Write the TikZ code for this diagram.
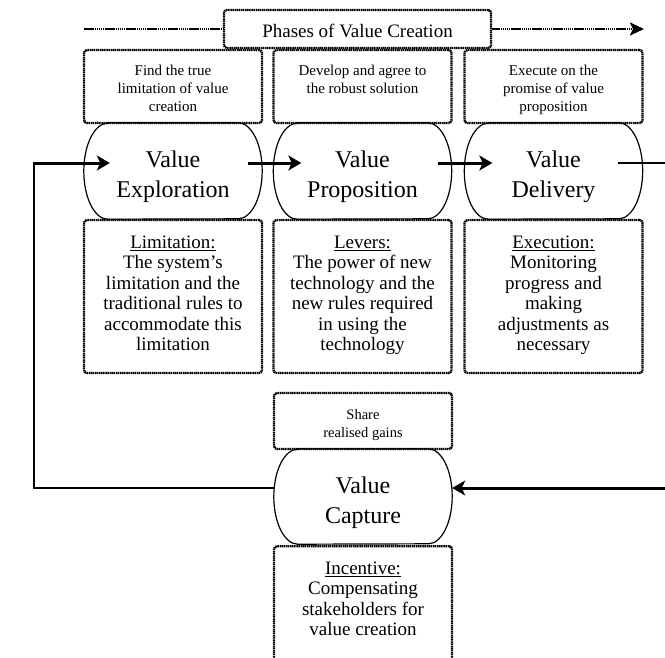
\documentclass[tikz,border=0pt]{standalone}
\usepackage{fontspec}
\setmainfont{Liberation Serif}
\usetikzlibrary{arrows.meta}
\newsavebox\ulbox
\newcommand\ulin[1]{\sbox\ulbox{#1}\rlap{\rule[-2.8pt]{\wd\ulbox}{1.1pt}}\usebox\ulbox}
\newcommand\capoutline[2]{%
  \draw[capline] ([xshift=24pt]#1.north west) -- ([xshift=-24pt]#1.north east)
    arc[start angle=90, end angle=-90, x radius=24pt, y radius=#2]
    -- ([xshift=24pt]#1.south west)
    arc[start angle=270, end angle=90, x radius=24pt, y radius=#2] -- cycle;}
\tikzset{
  dotbox/.style={draw, line width=2.3pt, dash pattern=on 1.5pt off 0.6pt,
    rounded corners=3pt, inner sep=0pt, minimum width=178pt, align=center},
  toptext/.style={font=\fontsize{15}{18}\selectfont},
  sharetext/.style={font=\fontsize{14.5}{18}\selectfont},
  phasetext/.style={font=\fontsize{19}{22}\selectfont},
  bottext/.style={font=\fontsize{19}{20.5}\selectfont},
  capnode/.style={inner sep=0pt, minimum width=178pt, align=center,
    font=\fontsize{24}{30}\selectfont},
  capline/.style={line width=1.2pt},
  thinline/.style={line width=1.4pt},
  thickarrow/.style={line width=3pt, -{Stealth[length=13pt,width=15pt,inset=3.5pt]}},
  dotline/.style={line width=2.3pt, dash pattern=on 1.5pt off 0.6pt},
}
\begin{document}
\begin{tikzpicture}[x=1pt,y=-1pt]
\useasboundingbox (0,0) rectangle (665,657);
\clip (0,0) rectangle (665,657);

% title
\node[dotbox, phasetext, minimum width=267pt, text height=27pt, text depth=11pt] (phases) at (357.5,29) {Phases of Value Creation};
\coordinate (lstart) at (84,29);
\coordinate (rend) at (644,29);
\draw[dotline] (lstart) -- (phases.west);
\draw[dotline, -{Stealth[length=14pt,width=13pt,inset=3pt]}] (phases.east) -- (rend);

% top boxes
\node[dotbox, toptext, text height=61pt, text depth=12pt] (t1) at (173,86.5) {Find the true\\limitation of value\\creation};
\node[dotbox, toptext, text height=43pt, text depth=30pt] (t2) at (362.5,86.5) {Develop and agree to\\the robust solution};
\node[dotbox, toptext, text height=61pt, text depth=12pt] (t3) at (553.5,86.5) {Execute on the\\promise of value\\proposition};

% capsules
\node[capnode, text height=74pt, text depth=22pt] (c1) at (173,171) {Value\\Exploration};
\node[capnode, text height=74pt, text depth=22pt] (c2) at (362.5,171) {Value\\Proposition};
\node[capnode, text height=74pt, text depth=22pt] (c3) at (553.5,171) {Value\\Delivery};
\capoutline{c1}{48pt}
\capoutline{c2}{48pt}
\capoutline{c3}{48pt}

% bottom boxes
\node[dotbox, bottext, text height=130.5pt, text depth=22.5pt] (b1) at (173,296.5) {\ulin{Limitation:}\\The system’s\\limitation and the\\traditional rules to\\accommodate this\\limitation};
\node[dotbox, bottext, text height=130.5pt, text depth=22.5pt] (b2) at (362.5,296.5) {\ulin{Levers:}\\The power of new\\technology and the\\new rules required\\in using the\\technology};
\node[dotbox, bottext, text height=130.5pt, text depth=22.5pt] (b3) at (553.5,296.5) {\ulin{Execution:}\\Monitoring\\progress and\\making\\adjustments as\\necessary};

% value capture
\node[dotbox, sharetext, text height=44pt, text depth=12pt] (s) at (363,421) {Share\\realised gains};
\node[capnode, text height=74.5pt, text depth=20.5pt] (c4) at (363,496.5) {Value\\Capture};
\capoutline{c4}{47.5pt}
\node[dotbox, bottext, text height=89.5pt, text depth=90pt, anchor=north] (inc) at (363,545) {\ulin{Incentive:}\\Compensating\\stakeholders for\\value creation};

% connectors
\draw[thickarrow] ([shift={(-14pt,8pt)}]c1.east) -- ([shift={(28pt,8pt)}]c2.west);
\draw[thickarrow] ([shift={(-14pt,8pt)}]c2.east) -- ([shift={(28pt,8pt)}]c3.west);
\coordinate (dout) at (666,163);
\draw[thinline] ([shift={(-25pt,8pt)}]c3.east) -- (dout);
\coordinate (cin) at (666,488);
\draw[thickarrow] (cin) -- ([yshift=8.5pt]c4.east);
\coordinate (fb) at (34,163);
\draw[thinline] ([yshift=8.5pt]c4.west) -| (fb);
\draw[thickarrow] ([xshift=-0.7pt]fb) -- ([shift={(26pt,8pt)}]c1.west);
\end{tikzpicture}
\end{document}
